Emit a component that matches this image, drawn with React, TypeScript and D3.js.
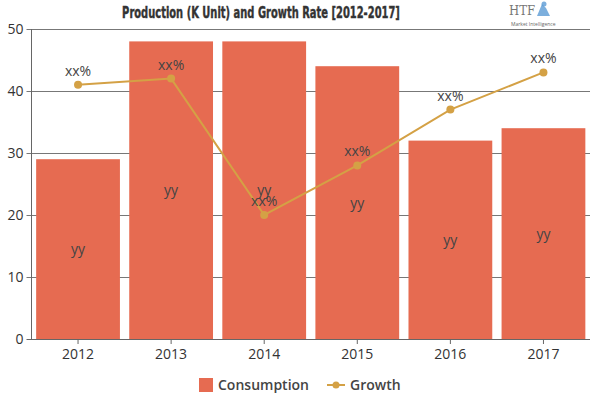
import React from "react";
import * as d3 from "d3";

const years = ["2012", "2013", "2014", "2015", "2016", "2017"];
const consumption = [29, 48, 48, 44, 32, 34];
const growth = [41, 42, 20, 28, 37, 43];
const yTicks = [0, 10, 20, 30, 40, 50];
const barLabels = ["yy", "yy", "yy", "yy", "yy", "yy"];
const pointLabels = ["xx%", "xx%", "xx%", "xx%", "xx%", "xx%"];

const W = 600;
const H = 400;
const M = { left: 31.5, right: 10, top: 29, bottom: 61 };
const BAR = "#E66B51";
const LINE = "#D4A145";
const FONT = "'Segoe UI', 'Open Sans', 'Noto Sans', sans-serif";

export default function App() {
  const x = d3
    .scaleBand<string>()
    .domain(years)
    .range([M.left, W - M.right])
    .paddingInner(0.1)
    .paddingOuter(0.05);
  const y = d3.scaleLinear().domain([0, 50]).range([H - M.bottom, M.top]);
  const cx = (d: string) => (x(d) as number) + x.bandwidth() / 2;
  const line = d3
    .line<number>()
    .x((_, i) => cx(years[i]))
    .y((v) => y(v));

  return (
    <svg
      width={W}
      height={H}
      style={{ position: "absolute", left: 0, top: 0, background: "#fff" }}
      fontFamily={FONT}
    >
      <g transform="translate(261,18) scale(0.69,1)">
        <text
          x={0}
          y={0}
          textAnchor="middle"
          fontFamily="'DejaVu Sans Condensed', 'DejaVu Sans', sans-serif"
          fontStretch="condensed"
          fontWeight="bold"
          fontSize={16}
          fill="#333"
          stroke="#333"
          strokeWidth={0.4}
        >
          Production (K Unit) and Growth Rate [2012-2017]
        </text>
      </g>
      {/* logo */}
      <g>
        <text x={509} y={15} fontFamily="'DejaVu Serif', serif" fontSize={13} fill="#777" textLength={26} lengthAdjust="spacingAndGlyphs">
          HTF
        </text>
        <path d="M537,16 l5,-12 l4,4 l4,8 z" fill="#5b9bd5" opacity={0.8} />
        <circle cx={544} cy={4} r={2.5} fill="#5b9bd5" opacity={0.8} />
        <text x={511} y={26} fontSize={5} fill="#666">
          Market Intelligence
        </text>
      </g>
      {/* gridlines */}
      {yTicks.map((t) => (
        <g key={t}>
          <line x1={M.left - 5} x2={W - M.right} y1={y(t) + 0.5} y2={y(t) + 0.5} stroke={t === 0 ? "#666" : "#777"} strokeWidth={1} />
          <text x={M.left - 8} y={y(t) + 5} textAnchor="end" fontSize={14} fill="#333">
            {t}
          </text>
        </g>
      ))}
      <line x1={M.left} x2={M.left} y1={M.top} y2={H - M.bottom} stroke="#666" />
      {/* bars */}
      {years.map((yr, i) => (
        <rect
          key={yr}
          x={x(yr)}
          y={y(consumption[i])}
          width={x.bandwidth()}
          height={y(0) - y(consumption[i])}
          fill={BAR}
        />
      ))}
      {years.map((yr, i) => (
        <text
          key={"bl" + yr}
          x={cx(yr)}
          y={(y(consumption[i]) + y(0)) / 2 + 5}
          textAnchor="middle"
          fontSize={14}
          fill="#444"
        >
          {barLabels[i]}
        </text>
      ))}
      {/* x axis ticks */}
      {years.map((yr) => (
        <g key={"xt" + yr}>
          <line x1={cx(yr)} x2={cx(yr)} y1={y(0)} y2={y(0) + 5} stroke="#666" />
          <text x={cx(yr)} y={y(0) + 20} textAnchor="middle" fontSize={14} fill="#333">
            {yr}
          </text>
        </g>
      ))}
      {/* growth line */}
      <path d={line(growth) || ""} fill="none" stroke={LINE} strokeWidth={2} />
      {growth.map((v, i) => (
        <circle key={"pt" + i} cx={cx(years[i])} cy={y(v)} r={4} fill={LINE} />
      ))}
      {growth.map((v, i) => (
        <text
          key={"pl" + i}
          x={cx(years[i])}
          y={y(v) - 9}
          textAnchor="middle"
          fontSize={14}
          fill="#444"
        >
          {pointLabels[i]}
        </text>
      ))}
      {/* legend */}
      <rect x={199} y={378} width={14} height={14} fill={BAR} />
      <text x={218} y={390} fontSize={14} fontWeight={600} fill="#444">
        Consumption
      </text>
      <line x1={327} x2={345} y1={385} y2={385} stroke={LINE} strokeWidth={2} />
      <circle cx={336} cy={385} r={3.5} fill={LINE} />
      <text x={350} y={390} fontSize={14} fontWeight={600} fill="#444">
        Growth
      </text>
    </svg>
  );
}
